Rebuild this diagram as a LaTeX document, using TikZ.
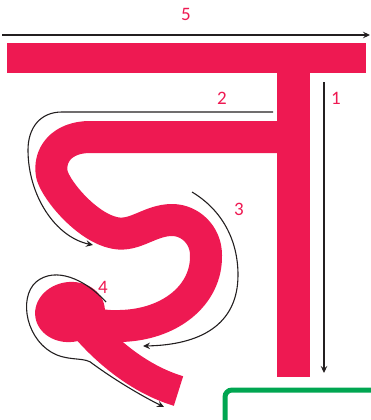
\documentclass[tikz,border=0pt]{standalone}
\usepackage{fontspec}
\setmainfont{Carlito}
\usetikzlibrary{arrows.meta}
\definecolor{ink}{RGB}{238,25,82}
\definecolor{guide}{RGB}{35,31,32}
\definecolor{boxgreen}{RGB}{0,166,81}
\tikzset{
  redstroke/.style={draw=ink, line cap=butt, line join=round},
  guidearrow/.style={draw=guide, line width=1.1pt, -{Stealth[length=7pt,width=6.5pt,inset=2.5pt]}},
  numlabel/.style={text=ink, font=\fontsize{19}{19}\selectfont, inner sep=0pt}
}
\begin{document}
\begin{tikzpicture}[x=1pt,y=-1pt]
\useasboundingbox (0,0) rectangle (371,420);
\clip (0,0) rectangle (371,420);
% red letter
\fill[ink] (7,43) rectangle (366,73);
\fill[ink] (277,72) rectangle (310,377);
\draw[redstroke, line width=32pt] (293,137) -- (90,137)
  .. controls (62,137) and (48,155) .. (52,175)
  .. controls (57,192) and (88,228) .. (115,233)
  .. controls (135,237) and (150,220) .. (172,220)
  .. controls (190,220) and (206,235) .. (206,255)
  .. controls (207,295) and (170,325) .. (120,326)
  .. controls (100,327) and (85,322) .. (72,315);
\fill[ink, rotate around={8:(70,312)}] (70,312) ellipse [x radius=35, y radius=30];
\draw[redstroke, line width=31pt] (80,320) .. controls (100,345) and (135,378) .. (178.5,391);
% guide arrows
\coordinate (a5s) at (2,35); \coordinate (a5e) at (370,35);
\draw[guidearrow] (a5s) -- (a5e);
\coordinate (a1s) at (324,82); \coordinate (a1e) at (324,373);
\draw[guidearrow] (a1s) -- (a1e);
\coordinate (a2s) at (273,112); \coordinate (a2e) at (93,245);
\draw[guidearrow] (a2s) -- (62,112) .. controls (40,112) and (28,128) .. (28,150)
  .. controls (28,195) and (55,237) .. (a2e);
\coordinate (a3s) at (192,192); \coordinate (a3e) at (143,346);
\draw[guidearrow] (a3s) .. controls (222,210) and (238,240) .. (238,275)
  .. controls (238,325) and (200,345) .. (a3e);
\coordinate (a4s) at (106,302); \coordinate (a4e) at (164,407);
\draw[guidearrow] (a4s) .. controls (85,279) and (55,266) .. (36,282)
  .. controls (18,298) and (26,342) .. (57,355)
  .. controls (72,361) and (86,357) .. (93,364)
  .. controls (115,380) and (140,395) .. (a4e);
% labels
\node[numlabel] (l5) at (186,14) {5};
\node[numlabel] (l1) at (336,98) {1};
\node[numlabel] (l2) at (222,98) {2};
\node[numlabel] (l3) at (239,209) {3};
\node[numlabel] (l4) at (103,287) {4};
% green box
\draw[boxgreen, line width=5pt, rounded corners=7pt] (225,390) rectangle (400,450);
\end{tikzpicture}
\end{document}
